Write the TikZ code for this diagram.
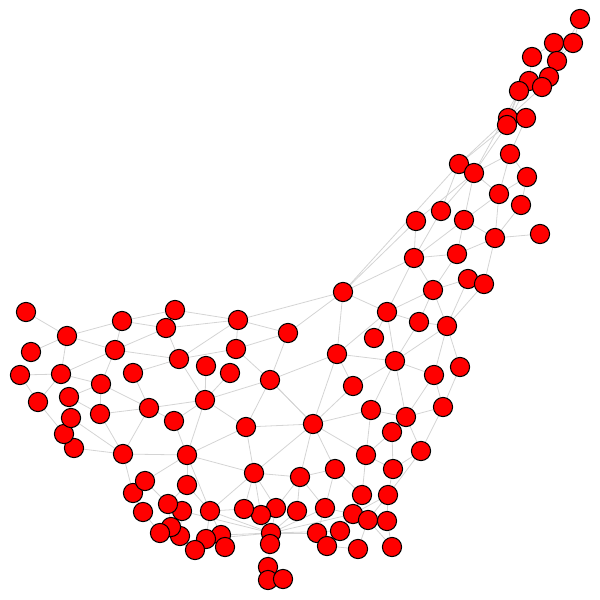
\documentclass[tikz,border=0pt]{standalone}
\usepackage{tikz}
\usetikzlibrary{backgrounds}
\usepackage{xcolor}
\definecolor{edgegray}{RGB}{212,212,212}

\begin{document}
\begin{tikzpicture}[
  x=0.5pt, y=-0.5pt,
  vertex/.style={circle, draw=black, line width=0.5pt, fill=red, minimum size=9.6pt, inner sep=0pt, outer sep=0pt},
  link/.style={draw=edgegray, line width=0.4pt}
]
\useasboundingbox (0,0) rectangle (600,600);
\foreach \n/\x/\y in {1/580/19, 2/554/43, 3/573/43, 4/532/57, 5/557/61, 6/549/77, 7/529/81, 8/542/87, 9/519/91, 10/508/118,
  11/507/125, 12/526/118, 13/510/154, 14/459/164, 15/474/173, 16/527/177, 17/499/194, 18/441/211, 19/416/221, 20/464/220,
  21/521/205, 22/495/238, 23/540/234, 24/457/254, 25/414/258, 26/468/279, 27/484/284, 28/433/290, 29/343/292, 30/387/312,
  31/419/322, 32/447/326, 33/374/338, 34/337/354, 35/395/361, 36/434/375, 37/460/367, 38/353/386, 39/371/410, 40/406/417,
  41/443/407, 42/392/432, 43/313/424, 44/421/451, 45/366/455, 46/393/469, 47/335/469, 48/388/495, 49/362/495, 50/300/477,
  51/254/473, 52/325/508, 53/353/514, 54/368/520, 55/387/521, 56/340/531, 57/317/533, 58/327/546, 59/358/549, 60/392/547,
  61/297/511, 62/276/508, 63/261/515, 64/244/509, 65/271/533, 66/270/544, 67/268/567, 68/268/580, 69/283/579, 70/221/535,
  71/210/511, 72/206/539, 73/225/547, 74/195/550, 75/180/536, 76/171/527, 77/160/533, 78/182/511, 79/168/504, 80/143/512,
  81/133/493, 82/145/481, 83/187/485, 84/187/455, 85/123/454, 86/74/448, 87/64/434, 88/71/418, 89/69/397, 90/38/402,
  91/20/375, 92/61/374, 93/31/352, 94/101/384, 95/100/414, 96/133/373, 97/115/350, 98/67/336, 99/26/312, 100/122/321,
  101/166/328, 102/175/310, 103/149/408, 104/174/421, 105/205/400, 106/179/359, 107/206/366, 108/230/373, 109/236/349, 110/238/320,
  111/288/333, 112/270/380, 113/246/427} {
  \node[vertex] (v\n) at (\x,\y) {};
}
\begin{scope}[on background layer]
\foreach \a/\b in {1/3, 1/5, 2/4, 2/3, 2/6, 3/5, 4/7, 5/6, 5/8, 6/8, 6/7, 7/9, 8/9, 8/10, 9/10, 9/11, 7/11, 10/12, 11/12, 12/13,
  11/14, 10/14, 9/15, 11/15, 13/15, 13/17, 13/16, 14/15, 14/29, 15/17, 15/20, 15/19, 15/18, 16/17, 16/21, 17/20,
  17/22, 21/22, 22/23, 20/22, 20/24, 18/25, 19/25, 20/25, 25/24, 25/28, 25/29, 19/29, 25/30, 24/28, 24/22, 22/27,
  26/28, 28/30, 28/31, 28/32, 27/32, 30/31, 26/32, 14/18, 29/30, 29/34, 29/110, 29/111, 30/34, 30/35, 31/32, 31/35,
  32/35, 32/36, 32/37, 34/35, 34/38, 34/43, 34/112, 35/36, 35/38, 35/39, 35/40, 36/40, 36/41, 37/41, 38/43, 39/43,
  39/40, 39/45, 40/41, 40/44, 41/44, 42/45, 42/46, 43/45, 43/47, 43/50, 43/51, 43/113, 43/112, 44/46, 45/49, 45/46,
  44/48, 46/48, 47/50, 47/49, 47/52, 50/51, 50/61, 50/52, 50/62, 33/30, 52/53, 52/57, 53/49, 53/48, 54/55, 54/48,
  53/56, 56/58, 57/58, 55/60, 54/60, 58/59, 59/54, 48/55, 52/65, 56/65, 53/65, 61/65, 62/65, 63/65, 64/65, 65/66,
  66/67, 67/68, 67/69, 51/64, 51/63, 51/62, 51/71, 51/113, 64/71, 71/65, 70/65, 72/65, 78/65, 57/65, 99/98, 98/93,
  98/100, 98/92, 98/97, 91/92, 91/90, 92/97, 92/94, 92/90, 89/94, 100/102, 100/101, 100/97, 97/101, 97/106, 97/94,
  96/106, 96/103, 94/103, 94/95, 95/103, 89/95, 88/85, 86/85, 95/85, 103/85, 103/104, 104/84, 85/84, 101/106, 102/110,
  101/110, 110/111, 110/109, 110/106, 111/112, 111/109, 109/106, 109/112, 107/105, 108/105, 105/112, 106/105, 105/103,
  105/113, 105/84, 104/105, 112/113, 112/43, 113/84, 84/51, 88/87, 87/86, 90/87, 89/88, 85/81, 84/82, 84/83, 84/71,
  82/79, 83/79, 81/80, 80/77, 79/76, 78/75, 83/71, 71/72, 71/70, 77/74, 76/75, 75/74, 72/74, 70/73, 72/73, 79/78, 82/81} {
  \draw[link] (v\a) -- (v\b);
}
\end{scope}
\end{tikzpicture}
\end{document}
